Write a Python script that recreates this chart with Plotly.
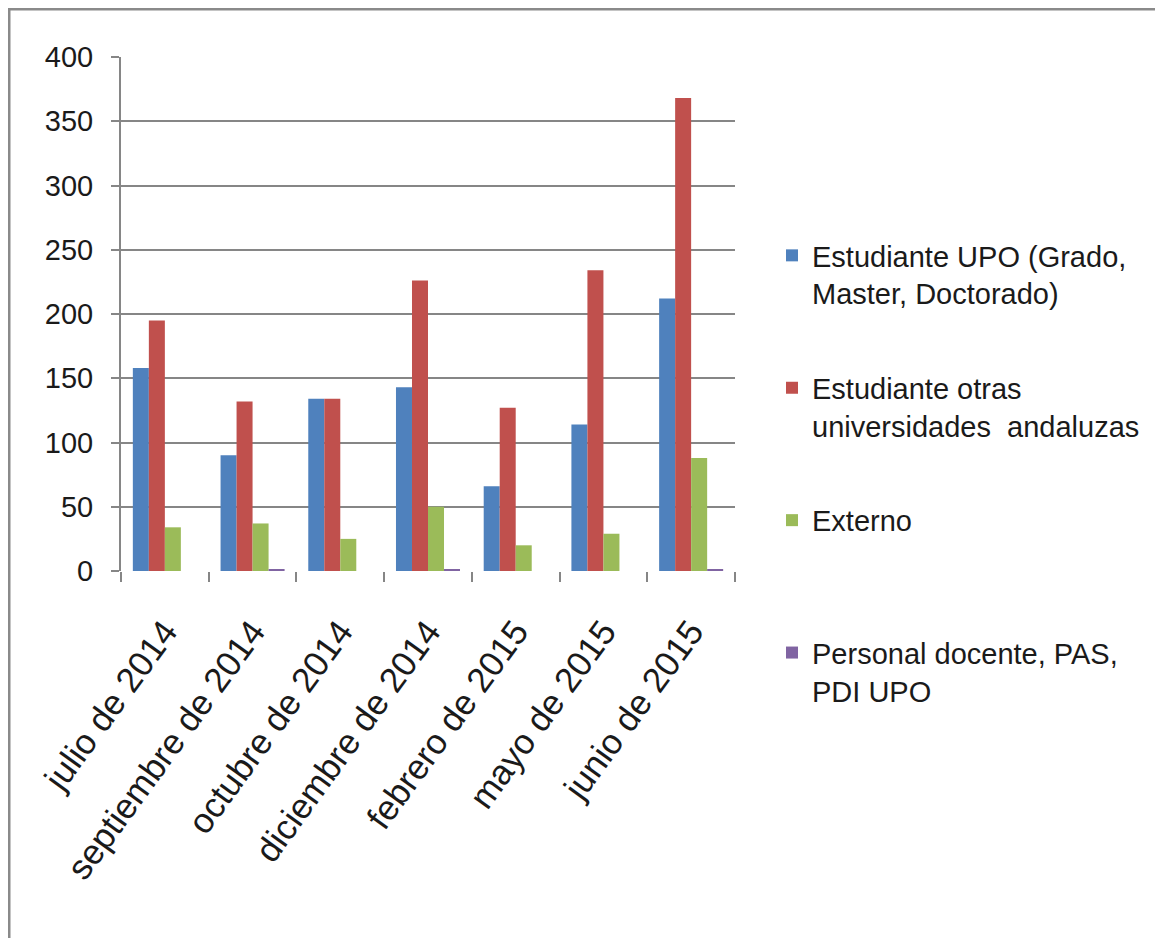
import plotly.graph_objects as go

categories = ["julio de 2014", "septiembre de 2014", "octubre de 2014", "diciembre de 2014",
              "febrero de 2015", "mayo de 2015", "junio de 2015"]
series_names = ["Estudiante UPO (Grado,<br>Master, Doctorado)",
                "Estudiante otras<br>universidades  andaluzas",
                "Externo<br>\u00a0",
                "Personal docente, PAS,<br>PDI UPO"]
upo = [158, 90, 134, 143, 66, 114, 212]
otras = [195, 132, 134, 226, 127, 234, 368]
externo = [34, 37, 25, 50, 20, 29, 88]
personal = [0, 1, 0, 1, 0, 0, 1]
colors = ["#4F81BD", "#C0504D", "#9BBB59", "#8064A2"]
y_ticks = [0, 50, 100, 150, 200, 250, 300, 350, 400]

FONT = "Liberation Sans, Arial, sans-serif"

fig = go.Figure()
for i, (name, vals) in enumerate(zip(series_names, [upo, otras, externo, personal])):
    fig.add_trace(go.Bar(x=categories, y=vals, name=name, marker_color=colors[i],
                         marker_line_width=0, legendgroup=str(i)))

OFF = 8  # page body margin
W, H = 1163 - OFF, 938 - OFF
L, R, T, B = 121 - OFF, 735 - OFF, 57 - OFF, 571 - OFF
pw, ph = R - L, B - T

def px2x(p):
    return (p - OFF - L) / pw

def py2y(p):
    return (B - (p - OFF)) / ph

fig.update_layout(
    width=W, height=H,
    margin=dict(l=L, r=W - R, t=T, b=H - B, autoexpand=False),
    paper_bgcolor="white", plot_bgcolor="white",
    barmode="group", bargap=0.27, bargroupgap=0,
    font=dict(family=FONT, color="#1a1a1a"),
    showlegend=True,
    legend=dict(x=px2x(772), y=py2y(230), xanchor="left", yanchor="top",
                font=dict(size=29, family=FONT, color="#1a1a1a"),
                tracegroupgap=54, valign="top", bgcolor="rgba(0,0,0,0)"),
    xaxis=dict(showline=False, showgrid=False, ticks="outside", tickson="boundaries",
               ticklen=10, tickcolor="#868686", tickwidth=2,
               tickangle=-54, tickfont=dict(size=35, family=FONT, color="#1a1a1a"),
               ticklabelstandoff=32, fixedrange=True),
    yaxis=dict(range=[0, 400], tickvals=y_ticks, showgrid=True, gridcolor="#868686",
               gridwidth=2, showline=True, linecolor="#868686", linewidth=2,
               ticks="outside", ticklen=8, tickcolor="#868686", tickwidth=2,
               tickfont=dict(size=29, family=FONT, color="#1a1a1a"),
               ticklabelstandoff=12, zeroline=False, fixedrange=True),
)

fig.add_shape(type="rect", xref="paper", yref="paper",
              x0=px2x(9), x1=px2x(1163 + 20), y0=py2y(938 + 20), y1=py2y(9),
              line=dict(color="#8a8a8a", width=3), fillcolor="rgba(0,0,0,0)", layer="below")

fig.write_html("out.html")
